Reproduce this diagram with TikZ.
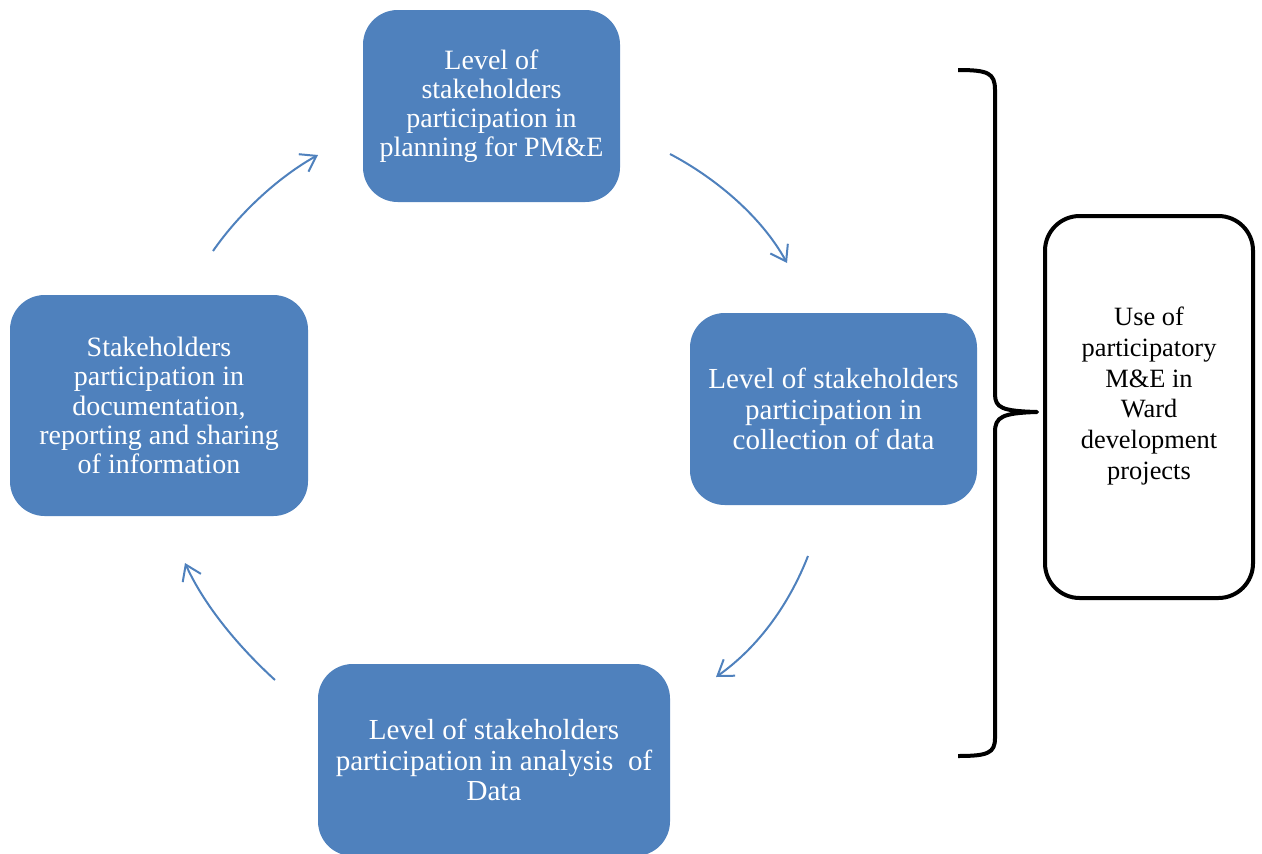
\documentclass[tikz,border=0pt]{standalone}
\usepackage{fontspec}
\setmainfont{Liberation Serif}
\usetikzlibrary{arrows.meta}
\definecolor{boxblue}{HTML}{4F81BD}
\begin{document}
\begin{tikzpicture}[x=0.75pt,y=-0.75pt,
  bluebox/.style={fill=boxblue, draw=none, rounded corners=26pt, text=white, align=center, inner sep=0pt,
    font=\fontsize{21}{21.9}\selectfont},
  bigtext/.style={font=\fontsize{21.8}{22.6}\selectfont},
  blackbox/.style={draw=black, line width=3pt, rounded corners=26pt, fill=white, inner sep=0pt},
  blacktext/.style={text=black, align=center, font=\fontsize{19.8}{23.1}\selectfont},
  cyc/.style={draw=boxblue, line width=1.5pt, -{Straight Barb[length=11pt,width=15pt,line width=1.5pt]}},
  brace/.style={draw=black, line width=3pt, line join=round, line cap=butt}]
\useasboundingbox (0,0) rectangle (1262,853);
\node[bluebox, minimum width=192.75pt, minimum height=144pt] (plan) at (491.5,106)
  {Level of\\stakeholders\\participation in\\planning for PM\&E};
\node[bluebox, bigtext, minimum width=215.25pt, minimum height=144pt] (coll) at (833.5,409)
  {Level of stakeholders\\participation in\\collection of data};
\node[bluebox, bigtext, minimum width=264pt, minimum height=144pt] (anal) at (494,760)
  {Level of stakeholders\\participation in analysis\ \ of\\Data};
\node[bluebox, minimum width=223.5pt, minimum height=165.75pt] (docu) at (159,405.5)
  {Stakeholders\\participation in\\documentation,\\reporting and sharing\\of information};
\node[blackbox, minimum width=156pt, minimum height=286.5pt] (use) at (1149,407) {};
\node[blacktext] (usetext) at (1149,396)
  {Use of\\participatory\\M\&E in\\Ward\\development\\projects};
\coordinate (a1s) at (213,251); \coordinate (a1e) at (318,155);
\coordinate (a2s) at (670,154); \coordinate (a2e) at (787,263);
\coordinate (a3s) at (808,556); \coordinate (a3e) at (716,677);
\coordinate (a4s) at (275,680); \coordinate (a4e) at (185,563);
\draw[cyc] (a1s) .. controls (240,212) and (280,176) .. (a1e);
\draw[cyc] (a2s) .. controls (712,176) and (760,214) .. (a2e);
\draw[cyc] (a3s) .. controls (790,602) and (760,646) .. (a3e);
\draw[cyc] (a4s) .. controls (240,648) and (205,607) .. (a4e);
\coordinate (btop) at (958,70);
\coordinate (bbot) at (958,756);
\coordinate (btip) at (1037,412);
\draw[brace] (btop) .. controls (988,70) and (995,73) .. (995,90) -- (995,394)
  .. controls (995,408) and (1002,411) .. (btip)
  .. controls (1002,413) and (995,417) .. (995,432) -- (995,738)
  .. controls (995,753) and (988,756) .. (bbot);
\end{tikzpicture}
\end{document}
